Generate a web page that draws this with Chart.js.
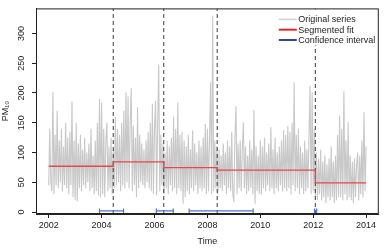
<!DOCTYPE html>
<html>
<head>
<meta charset="utf-8">
<script src="https://cdn.jsdelivr.net/npm/chart.js@4/dist/chart.umd.min.js"></script>
<style>
  html, body { margin: 0; padding: 0; background: #fff; }
</style>
</head>
<body>
<canvas id="chart" width="384" height="249"></canvas>
<script>
const seriesStart = 2002
const seriesStep = 0.04
const pm10 = [
  45, 140, 50, 35, 201, 30, 130, 45, 170, 40, 120, 50, 140, 35, 110, 45, 150, 40, 125, 30, 135, 45, 186, 25, 120, // 2002
  20, 150, 18, 115, 40, 130, 35, 105, 45, 125, 40, 100, 50, 115, 35, 140, 40, 95, 30, 120, 35, 150, 28, 190, 25, // 2003
  184, 30, 140, 25, 120, 150, 35, 110, 40, 125, 30, 105, 40, 160, 45, 140, 50, 130, 35, 150, 45, 170, 40, 201, 50, // 2004
  194, 40, 150, 208, 35, 145, 45, 125, 25, 176, 40, 130, 50, 115, 45, 105, 40, 120, 50, 135, 40, 150, 35, 182, 30, // 2005
  140, 187, 28, 150, 248, 35, 130, 45, 115, 30, 100, 40, 120, 30, 110, 45, 125, 35, 160, 40, 140, 30, 184, 40, 130, // 2006
  35, 135, 14, 120, 25, 110, 35, 130, 30, 105, 40, 137, 35, 115, 45, 100, 30, 120, 40, 110, 35, 125, 40, 148, 30, // 2007
  140, 35, 125, 218, 30, 330, 35, 120, 40, 110, 30, 105, 40, 95, 35, 115, 45, 100, 30, 120, 40, 110, 35, 135, 30, // 2008
  17, 125, 178, 30, 115, 40, 120, 35, 105, 151, 40, 110, 30, 95, 35, 120, 40, 105, 30, 172, 14, 110, 35, 95, 30, // 2009
  120, 30, 110, 40, 125, 35, 100, 45, 115, 35, 143, 40, 105, 30, 125, 40, 100, 35, 110, 45, 120, 35, 138, 40, 130, // 2010
  35, 145, 40, 135, 30, 150, 45, 218, 35, 130, 40, 140, 30, 110, 40, 100, 30, 120, 35, 105, 40, 125, 212, 30, 202, // 2011
  35, 140, 25, 100, 20, 90, 30, 105, 20, 85, 25, 95, 15, 80, 25, 90, 20, 110, 25, 85, 15, 95, 20, 130, 25, // 2012
  162, 25, 140, 20, 203, 30, 120, 20, 151, 25, 95, 20, 85, 15, 90, 25, 80, 100, 20, 95, 30, 120, 25, 168, 35, // 2013
  110
]

// segmented fit
const fitStart = 2002
const fitEnd = 2014
const breaks = [2004.44, 2006.35, 2008.37, 2012.08]
const levels = [77, 84.4, 74.7, 70.5, 49]

// confidence intervals of the breakpoints
const ciLow = [2003.92, 2006.07, 2007.31, 2012.05]
const ciHigh = [2004.83, 2006.71, 2009.73, 2012.13]
const ciLevel = 2

const xTicks = [2002, 2004, 2006, 2008, 2010, 2012, 2014]
const yTicks = [0, 50, 100, 150, 200, 250, 300]
const xMin = 2001.52, xMax = 2014.48
const yMin = -3.2, yMax = 342

const font = '"Liberation Sans", Arial, Helvetica, sans-serif'
const ink = "#222"
const grey = "#c8c8c8"
const red = "#e5484a"
const blue = "#5274c8"

const original = pm10.map((v, i) => ({ x: seriesStart + i * seriesStep, y: v }))
const fitX = [fitStart, ...breaks, fitEnd]
const fitY = [...levels, levels[levels.length - 1]]
const fit = fitX.map((x, i) => ({ x, y: fitY[i] }))

const datasets = [
  {
    label: "Original series",
    data: original,
    borderColor: grey,
    borderWidth: 1.1,
    pointRadius: 0,
    order: 5,
    legendColor: "#d0d0d0",
    legendWidth: 1.5,
  },
  {
    label: "Segmented fit",
    data: fit,
    stepped: "before",
    borderColor: red,
    borderWidth: 1.4,
    pointRadius: 0,
    order: 2,
    legendColor: "#e02a2a",
    legendWidth: 2,
  },
]

breaks.forEach((b) => {
  datasets.push({
    label: "break",
    data: [{ x: b, y: yMin }, { x: b, y: yMax }],
    borderColor: "#3a3a3a",
    borderWidth: 1,
    borderDash: [4, 3],
    pointRadius: 0,
    order: 3,
  })
})

ciLow.forEach((lo, i) => {
  datasets.push({
    label: "Confidence interval",
    data: [{ x: lo, y: ciLevel }, { x: ciHigh[i], y: ciLevel }],
    borderColor: blue,
    borderWidth: 1.2,
    pointStyle: "line",
    rotation: 90,
    pointRadius: 2.5,
    pointBorderColor: blue,
    pointBorderWidth: 1.2,
    order: 1,
    legendColor: "#2b49a3",
    legendWidth: 2,
    inLegend: i === 0,
  })
})
datasets[0].inLegend = true
datasets[1].inLegend = true

// R style box round the plot region
const boxPlugin = {
  id: "box",
  afterDraw(chart) {
    const { ctx, chartArea: a } = chart
    ctx.save()
    ctx.strokeStyle = ink
    ctx.lineWidth = 1
    ctx.strokeRect(a.left + 0.5, a.top + 0.5, a.right - a.left - 1, a.bottom - a.top - 1)
    ctx.restore()
  },
}

// legend on a white patch (no frame), lines then labels, top right of the plot
const legendPlugin = {
  id: "rLegend",
  afterDatasetsDraw(chart) {
    const { ctx, chartArea: a } = chart
    const items = chart.data.datasets.filter((d) => d.inLegend)
    const x0 = a.right - 100
    ctx.save()
    ctx.fillStyle = "#fff"
    ctx.fillRect(x0 - 3, a.top + 1, a.right - x0 + 2, 36)
    ctx.font = "9px " + font
    ctx.textBaseline = "middle"
    ctx.fillStyle = ink
    items.forEach((d, i) => {
      const y = a.top + 11 + i * 10.3
      ctx.strokeStyle = d.legendColor
      ctx.lineWidth = d.legendWidth
      ctx.beginPath()
      ctx.moveTo(x0, y)
      ctx.lineTo(x0 + 18, y)
      ctx.stroke()
      ctx.fillText(d.label, x0 + 19.5, y + 0.5)
    })
    ctx.restore()
  },
}

new Chart(document.getElementById("chart"), {
  type: "line",
  data: { datasets },
  options: {
    responsive: false,
    animation: false,
    devicePixelRatio: 1,
    events: [],
    layout: { padding: { top: 0, right: 1.3, left: 0, bottom: 0 } },
    plugins: {
      legend: { display: false },
      tooltip: { enabled: false },
    },
    elements: { line: { tension: 0 } },
    scales: {
      x: {
        type: "linear",
        min: xMin,
        max: xMax,
        afterBuildTicks: (s) => { s.ticks = xTicks.map((v) => ({ value: v })) },
        afterFit: (s) => { s.height = 35 },
        ticks: {
          callback: (v) => String(v),
          color: ink,
          padding: 2.5,
          maxRotation: 0,
          font: { family: font, size: 9 },
        },
        grid: { drawOnChartArea: false, drawTicks: true, tickLength: 4, color: ink },
        border: { display: true, color: ink },
        title: {
          display: true,
          text: "Time",
          color: ink,
          font: { family: font, size: 9 },
          padding: { top: 0, bottom: 2.5 },
        },
      },
      y: {
        type: "linear",
        min: yMin,
        max: yMax,
        afterBuildTicks: (s) => { s.ticks = yTicks.map((v) => ({ value: v })) },
        afterFit: (s) => { s.width = 36 },
        ticks: {
          callback: (v) => String(v),
          color: ink,
          padding: 3,
          minRotation: 90,
          maxRotation: 90,
          crossAlign: "center",
          font: { family: font, size: 9 },
        },
        grid: { drawOnChartArea: false, drawTicks: true, tickLength: 4, color: ink },
        border: { display: true, color: ink },
        title: {
          display: true,
          text: "PM₁₀",
          color: ink,
          font: { family: font, size: 9 },
          padding: 0,
        },
      },
    },
  },
  plugins: [boxPlugin, legendPlugin],
})
</script>
</body>
</html>
